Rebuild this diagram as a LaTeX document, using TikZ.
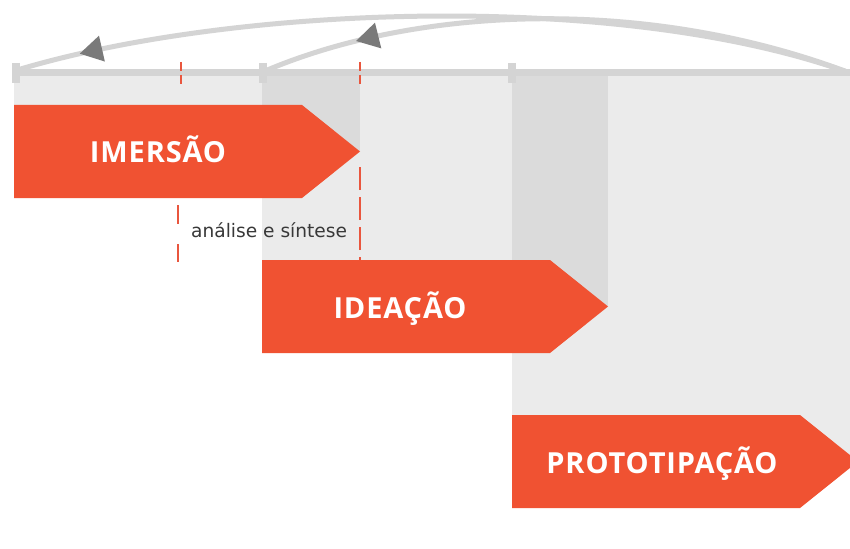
\documentclass[tikz,border=0pt]{standalone}
\usepackage{fontspec}
\newfontfamily\titulofont[LetterSpace=3]{Open Sans}
\newfontfamily\notafont{DejaVu Sans}
\usetikzlibrary{arrows.meta,decorations.markings}

\definecolor{laranja}{RGB}{240,82,50}
\definecolor{cinzaclaro}{RGB}{235,235,235}
\definecolor{cinzaescuro}{RGB}{219,219,219}
\definecolor{cinzalinha}{RGB}{212,212,212}
\definecolor{cinzaseta}{RGB}{122,122,122}
\definecolor{vermelho}{RGB}{233,86,62}

\tikzset{
	fase/.style={fill=laranja},
	rotulo/.style={text=white, anchor=base, inner sep=0pt,
		font=\titulofont\bfseries\fontsize{29}{31}\selectfont},
	nota/.style={text=black!78, anchor=base west, inner sep=0pt,
		font=\notafont\fontsize{18.6}{21}\selectfont},
	tracejado/.style={draw=vermelho, line width=2.5pt},
	retorno/.style={draw=cinzalinha, line width=5pt, postaction={decorate}},
	seta/.style={decoration={markings, mark=at position #1 with
		{\arrow{Triangle[length=23pt, width=25pt, color=cinzaseta]}}}},
}

\begin{document}
\begin{tikzpicture}[x=1pt, y=-1pt]
	\def\corpo{288}
	\def\altura{93}
	\def\ponta{58}
	
	\clip (0,0) rectangle (850,548);
	\fill[white] (0,0) rectangle (850,548);
	
	% colunas de cada fase
	\foreach \x/\y in {14/105, 262/260, 512/415}
		\fill[cinzaclaro] (\x, 76) rectangle (\x+\corpo+\ponta, \y+\altura/2);
	\fill[cinzaescuro] (262, 76) rectangle (360, 105+\altura/2);
	\fill[cinzaescuro] (512, 76) rectangle (608, 260+\altura/2);
	
	% linha do tempo
	\coordinate (inicio) at (14, 71);
	\coordinate (meio) at (265, 71);
	\coordinate (fim) at (850, 73);
	\draw[cinzalinha, line width=7pt] (14, 73) -- (fim);
	\foreach \x in {16, 263, 512}
		\draw[cinzalinha, line width=8pt] (\x, 63) -- (\x, 83);
	
	% retornos
	\draw[retorno, seta=0.92] (fim) .. controls (620,-10) and (230,5) .. (inicio);
	\draw[retorno, seta=0.84] (fim) .. controls (650,-3) and (420,5) .. (meio);
	
	% analise e sintese
	\draw[tracejado, dash pattern=on 9pt off 4pt] (181, 62) -- (181, 86);
	\draw[tracejado, dash pattern=on 9pt off 4pt] (360, 62) -- (360, 86);
	\draw[tracejado, dash pattern=on 19pt off 20pt] (178, 205) -- (178, 262);
	\draw[tracejado, dash pattern=on 23pt off 7pt] (360, 167) -- (360, 262);
	\node[nota] (analise) at (191, 237) {análise e síntese};
	
	% fases
	\foreach \x/\y/\cx/\nome/\texto in {14/105/158/imersao/IMERSÃO, 262/260/400/ideacao/IDEAÇÃO, 512/415/662/prototipacao/PROTOTIPAÇÃO}{
		\fill[fase] (\x, \y) -- ++(\corpo, 0) -- ++(\ponta, \altura/2)
			-- ++(-\ponta, \altura/2) -- ++(-\corpo, 0) -- cycle;
		\node[rotulo] (\nome) at (\cx, \y+58) {\texto};
	}
\end{tikzpicture}
\end{document}
